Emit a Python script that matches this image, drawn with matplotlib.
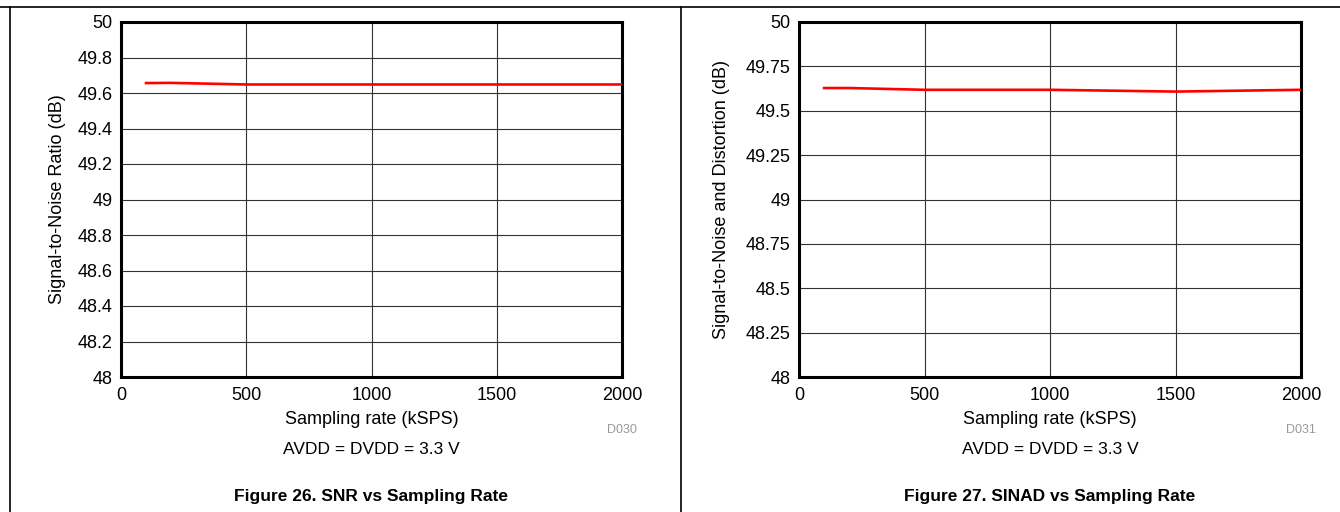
import matplotlib
matplotlib.use('Agg')
import matplotlib.pyplot as plt
from matplotlib.lines import Line2D

plt.rcParams['font.family'] = ['Liberation Sans', 'DejaVu Sans']

# Data
rate_ksps = [100, 200, 500, 1000, 1500, 2000]
snr_db = [49.656, 49.657, 49.648, 49.648, 49.648, 49.648]
sinad_db = [49.628, 49.628, 49.618, 49.618, 49.608, 49.618]

x_ticks = [0, 500, 1000, 1500, 2000]
snr_ticks = [48, 48.2, 48.4, 48.6, 48.8, 49, 49.2, 49.4, 49.6, 49.8, 50]
snr_labels = ['48', '48.2', '48.4', '48.6', '48.8', '49', '49.2', '49.4', '49.6', '49.8', '50']
sinad_ticks = [48, 48.25, 48.5, 48.75, 49, 49.25, 49.5, 49.75, 50]
sinad_labels = ['48', '48.25', '48.5', '48.75', '49', '49.25', '49.5', '49.75', '50']

W, H = 1340, 512
fig = plt.figure(figsize=(W / 100, H / 100), dpi=100)


def px_x(x):
    return x / W


def px_y(y):
    return 1 - y / H


panels = [
    dict(left=121, right=622, y=snr_db, ticks=snr_ticks, labels=snr_labels,
         ylabel='Signal-to-Noise Ratio (dB)', ylabel_x=57, code='D030',
         caption='Figure 26. SNR vs Sampling Rate'),
    dict(left=799, right=1301, y=sinad_db, ticks=sinad_ticks, labels=sinad_labels,
         ylabel='Signal-to-Noise and Distortion (dB)', ylabel_x=721, code='D031',
         caption='Figure 27. SINAD vs Sampling Rate'),
]

top, bottom = 22, 377
for p in panels:
    ax = fig.add_axes([px_x(p['left']), px_y(bottom),
                       (p['right'] - p['left']) / W, (bottom - top) / H])
    ax.plot(rate_ksps, p['y'], color='#ff0000', lw=1.9, zorder=3)
    ax.set_xlim(0, 2000)
    ax.set_ylim(48, 50)
    ax.set_xticks(x_ticks)
    ax.set_xticklabels([str(t) for t in x_ticks])
    ax.set_yticks(p['ticks'])
    ax.set_yticklabels(p['labels'])
    ax.tick_params(length=0, labelsize=13)
    ax.tick_params(axis='x', pad=7)
    ax.tick_params(axis='y', pad=6)
    ax.grid(True, color='#333333', lw=0.8)
    for s in ax.spines.values():
        s.set_linewidth(2.2)
        s.set_color('black')
    cx = (p['left'] + p['right']) / 2
    fig.text(px_x(cx), px_y(419), 'Sampling rate (kSPS)', ha='center', va='center', fontsize=13)
    fig.text(px_x(p['ylabel_x']), px_y((top + bottom) / 2), p['ylabel'], rotation=90,
             ha='center', va='center', fontsize=13)
    fig.text(px_x(p['right'] + 15), px_y(430), p['code'], ha='right', va='center',
             fontsize=9, color='#999999')
    fig.text(px_x(cx), px_y(450), 'AVDD = DVDD = 3.3 V', ha='center', va='center', fontsize=12.5)
    fig.text(px_x(cx), px_y(497), p['caption'], ha='center', va='center',
             fontsize=12.5, fontweight='bold')

# page frame lines
fig.add_artist(Line2D([0, 1], [px_y(7), px_y(7)], color='black', lw=1.2))
fig.add_artist(Line2D([px_x(10), px_x(10)], [0, px_y(7)], color='black', lw=1.2))
fig.add_artist(Line2D([px_x(681), px_x(681)], [0, px_y(7)], color='black', lw=1.2))

fig.savefig('out.png', dpi=100)
